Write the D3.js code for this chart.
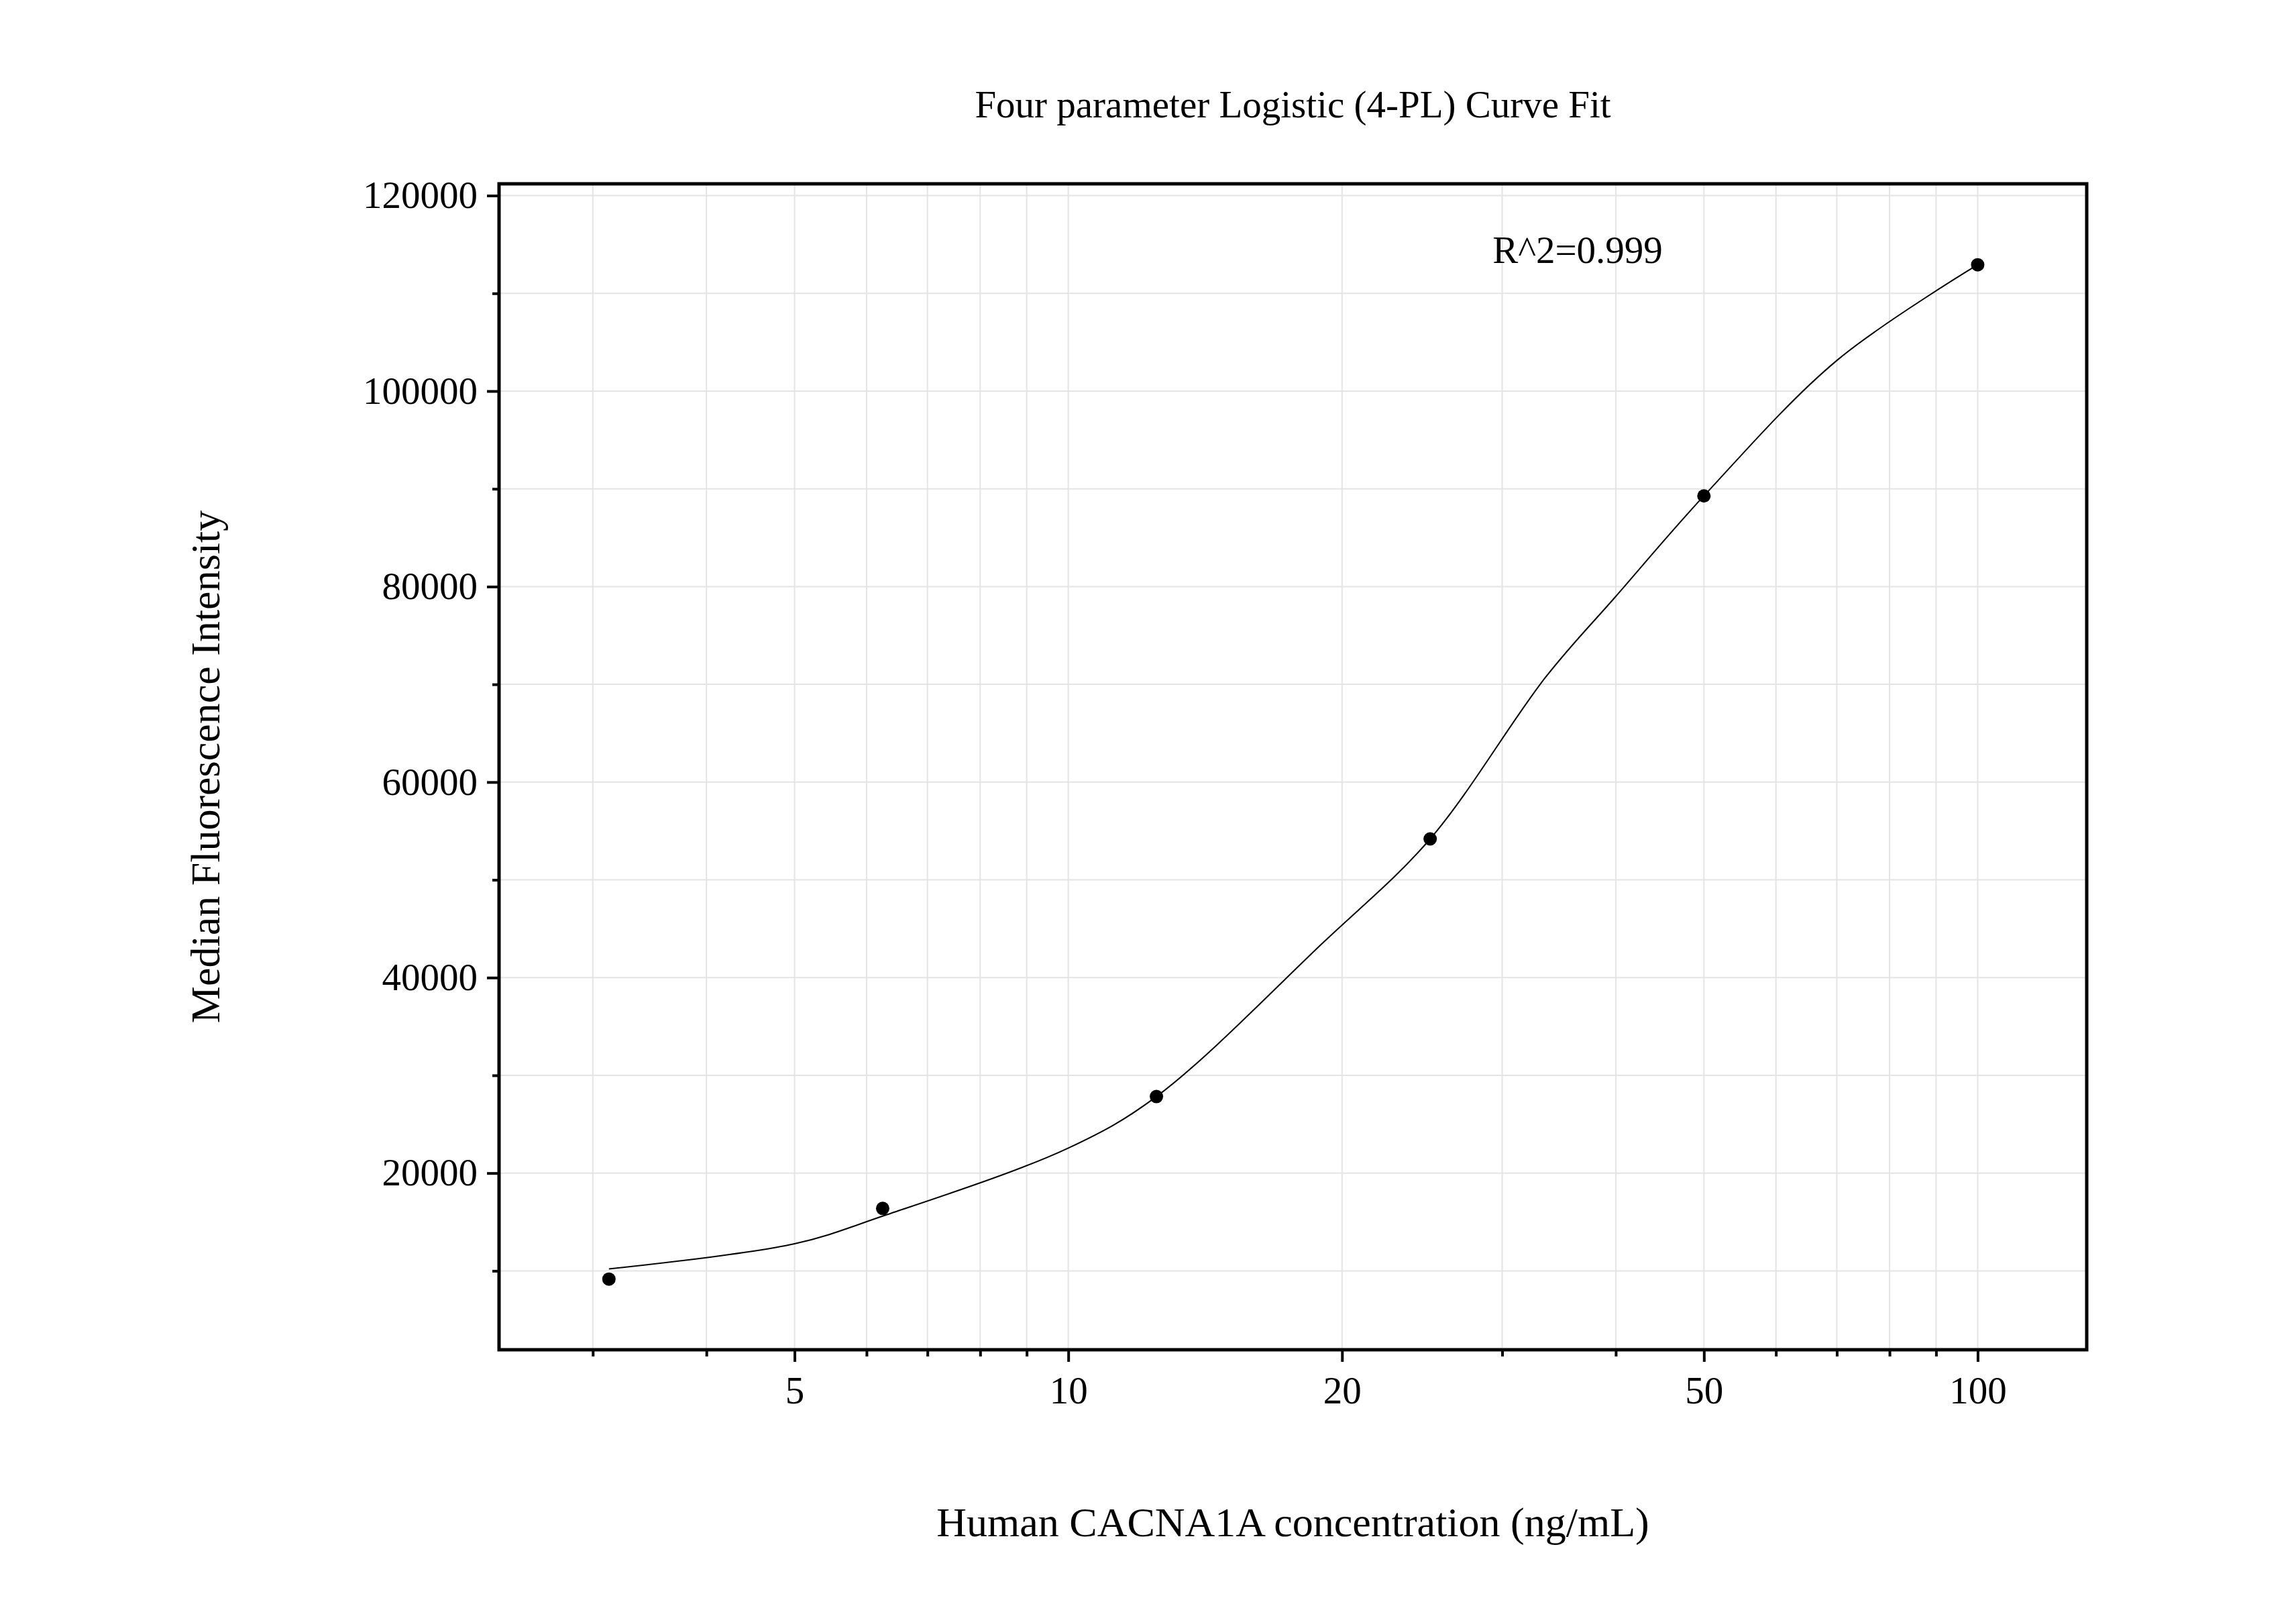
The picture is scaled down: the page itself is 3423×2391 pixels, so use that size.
<!DOCTYPE html><html><head><meta charset="utf-8"><script src="https://cdn.jsdelivr.net/npm/d3@7"></script>
<style>body{margin:0;background:#fff}</style></head><body><svg id="c" width="3423" height="2391"></svg>
<script>
const conc=[3.125,6.25,12.5,25,50,100];
const mfi=[9157,16386,27831,54187,89277,112922];
const curveX=[3.125,5,6.25,10,12.5,19.1,25,33.5,40,50,70,100];
const curveY=[10200,12770,15600,22560,27830,43650,54190,70750,79000,89280,103130,112920];
const xTickLabels=[5,10,20,50,100];
const xMinor=[3,4,6,7,8,9,30,40,60,70,80,90];
const yTicks=[20000,40000,60000,80000,100000,120000];
const yMinor=[10000,30000,50000,70000,90000,110000];
const svg=d3.select("#c");
const L=744,R=3111,T=274,B=2012;
const x=d3.scaleLog().domain([2.366,131.8]).range([L,R]);
const y=d3.scaleLinear().domain([1928,121205]).range([B,T]);
const F="Liberation Serif";
const gx=[...xMinor,...xTickLabels].sort((a,b)=>a-b);
svg.append("g").selectAll("line").data(gx).join("line").attr("x1",d=>x(d)).attr("x2",d=>x(d)).attr("y1",T).attr("y2",B).attr("stroke","#e4e4e4").attr("stroke-width",2);
svg.append("g").selectAll("line").data([...yTicks,...yMinor]).join("line").attr("y1",d=>y(d)).attr("y2",d=>y(d)).attr("x1",L).attr("x2",R).attr("stroke","#e4e4e4").attr("stroke-width",2);
const xa=svg.append("g").attr("transform",`translate(0,${B})`).call(d3.axisBottom(x).tickValues(xTickLabels).tickFormat(d3.format("d")).tickSize(18).tickPadding(22));
const xm=svg.append("g").attr("transform",`translate(0,${B})`).call(d3.axisBottom(x).tickValues(xMinor).tickFormat("").tickSize(10));
const ya=svg.append("g").attr("transform",`translate(${L},0)`).call(d3.axisLeft(y).tickValues(yTicks).tickFormat(d3.format("d")).tickSize(18).tickPadding(14));
const ym=svg.append("g").attr("transform",`translate(${L},0)`).call(d3.axisLeft(y).tickValues(yMinor).tickFormat("").tickSize(10));
[xa,xm,ya,ym].forEach(g=>{g.select(".domain").remove();g.selectAll("line").attr("stroke","#000").attr("stroke-width",4);g.selectAll("text").attr("font-family",F).attr("font-size",57).attr("fill","#000");});
svg.append("path").datum(curveX.map((d,i)=>[d,curveY[i]])).attr("d",d3.line().x(d=>x(d[0])).y(d=>y(d[1])).curve(d3.curveCatmullRom)).attr("fill","none").attr("stroke","#000").attr("stroke-width",2);
svg.append("g").selectAll("circle").data(conc).join("circle").attr("cx",d=>x(d)).attr("cy",(d,i)=>y(mfi[i])).attr("r",10).attr("fill","#000");
svg.append("rect").attr("x",L).attr("y",T).attr("width",R-L).attr("height",B-T).attr("fill","none").attr("stroke","#000").attr("stroke-width",5);
svg.append("text").attr("x",(L+R)/2).attr("y",175).attr("text-anchor","middle").attr("font-family",F).attr("font-size",57).text("Four parameter Logistic (4-PL) Curve Fit");
svg.append("text").attr("x",(L+R)/2).attr("y",2290).attr("text-anchor","middle").attr("font-family",F).attr("font-size",62).text("Human CACNA1A concentration (ng/mL)");
svg.append("text").attr("transform","translate(327,1143) rotate(-90)").attr("text-anchor","middle").attr("font-family",F).attr("font-size",62).text("Median Fluorescence Intensity");
svg.append("text").attr("x",2352).attr("y",392).attr("text-anchor","middle").attr("font-family",F).attr("font-size",57).text("R^2=0.999");
</script></body></html>
